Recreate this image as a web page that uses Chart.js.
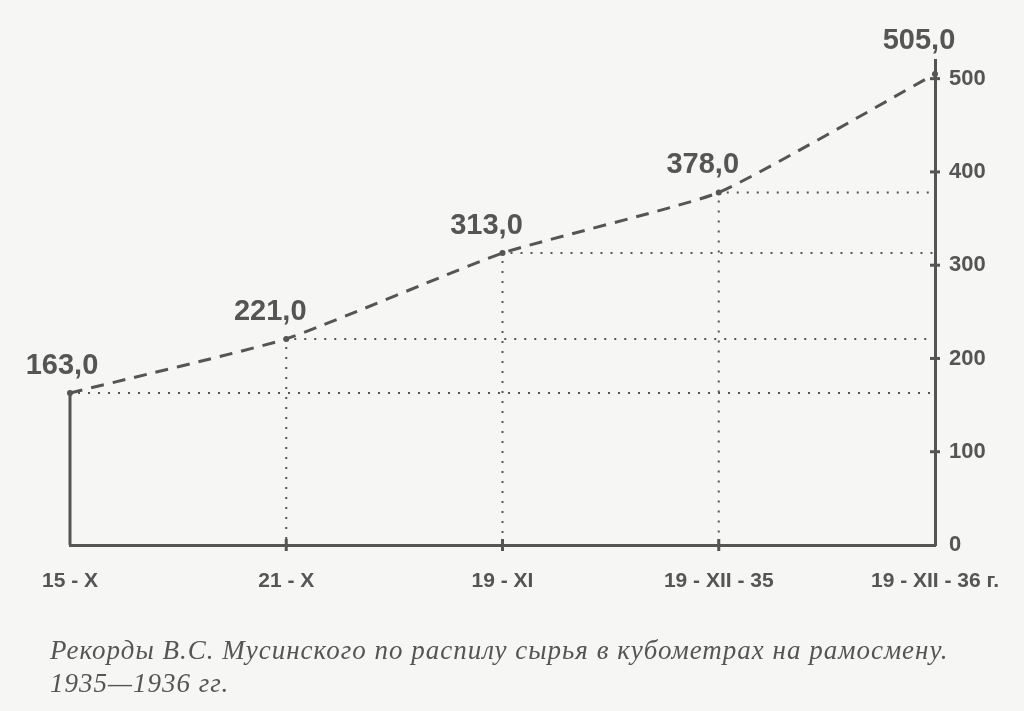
<!DOCTYPE html>
<html>
<head>
<meta charset="utf-8">
<script src="https://cdn.jsdelivr.net/npm/chart.js@4.4.0/dist/chart.umd.min.js"></script>
<style>
  body { margin: 0; background: #f6f6f4; }
  #wrap { position: relative; width: 1024px; height: 711px; overflow: hidden; }
  #myChart { position: absolute; left: 0; top: 0; }
  .caption {
    position: absolute; left: 50px; top: 634px;
    font-family: "Liberation Serif", "DejaVu Serif", serif;
    font-style: italic; font-size: 27px; line-height: 33px;
    color: #555; letter-spacing: 1px; white-space: nowrap;
  }
</style>
</head>
<body>
<div id="wrap">
  <canvas id="myChart" width="1024" height="711"></canvas>
  <div class="caption">Рекорды В.С. Мусинского по распилу сырья в кубометрах на рамосмену.<br>1935—1936 гг.</div>
</div>
<script>
const categories = ['15 - X', '21 - X', '19 - XI', '19 - XII - 35', '19 - XII - 36 г.'];
const records = [163, 221, 313, 378, 505];
const yTicks = [0, 100, 200, 300, 400, 500];

const ink = '#555';

// dotted guides to the axes + crossing tick marks + left solid edge
const guides = {
  id: 'guides',
  beforeDatasetsDraw(chart) {
    const ctx = chart.ctx;
    const x = chart.scales.x, y = chart.scales.y;
    const bottom = y.getPixelForValue(0);
    const right = x.getPixelForValue(categories.length - 1);
    ctx.save();
    ctx.strokeStyle = ink;
    records.forEach((v, i) => {
      const px = x.getPixelForValue(i);
      const py = y.getPixelForValue(v);
      ctx.lineWidth = 2;
      ctx.setLineDash([2, 8]);
      if (i < records.length - 1) {
        ctx.beginPath();
        ctx.moveTo(px + 8, py);
        ctx.lineTo(right, py);
        ctx.stroke();
      }
      if (i === 0) {
        ctx.setLineDash([]);
        ctx.lineWidth = 3;
        ctx.beginPath();
        ctx.moveTo(px, py);
        ctx.lineTo(px, bottom);
        ctx.stroke();
      } else if (i < records.length - 1) {
        ctx.beginPath();
        ctx.moveTo(px, py + 8);
        ctx.lineTo(px, bottom);
        ctx.stroke();
      }
    });
    ctx.setLineDash([]);
    ctx.lineWidth = 3;
    yTicks.slice(1).forEach(t => {
      const py = y.getPixelForValue(t);
      ctx.beginPath();
      ctx.moveTo(right - 5, py);
      ctx.lineTo(right + 5, py);
      ctx.stroke();
    });
    for (let i = 1; i < categories.length - 1; i++) {
      const px = x.getPixelForValue(i);
      ctx.beginPath();
      ctx.moveTo(px, bottom - 6);
      ctx.lineTo(px, bottom + 6);
      ctx.stroke();
    }
    ctx.restore();
  },
  afterDatasetsDraw(chart) {
    const ctx = chart.ctx;
    const meta = chart.getDatasetMeta(0);
    ctx.save();
    ctx.fillStyle = ink;
    ctx.font = 'bold 29px "Liberation Sans", Arial, sans-serif';
    ctx.textAlign = 'center';
    ctx.textBaseline = 'alphabetic';
    meta.data.forEach((pt, i) => {
      const shift = i === 0 ? -8 : -16;
      const lift = i === meta.data.length - 1 ? 25 : 19;
      ctx.fillText(records[i].toFixed(1).replace('.', ','), pt.x + shift, pt.y - lift);
    });
    ctx.restore();
  }
};

const config = {
  type: 'line',
  data: {
    labels: categories,
    datasets: [{
      data: records,
      borderColor: ink,
      borderWidth: 3,
      borderDash: [13, 9],
      pointRadius: 3,
      pointBackgroundColor: ink,
      pointBorderWidth: 0,
      tension: 0.15,
      fill: false
    }]
  },
  options: {
    responsive: false,
    animation: false,
    layout: { padding: { top: 60, left: 70, right: 0, bottom: 0 } },
    scales: {
      x: {
        offset: false,
        grid: { display: false, drawTicks: false },
        border: { display: true, color: ink, width: 3 },
        ticks: {
          color: ink,
          padding: 24,
          maxRotation: 0,
          autoSkip: false,
          font: { family: '"Liberation Sans", Arial, sans-serif', size: 21, weight: 'bold' }
        },
        afterFit(scale) { scale.height = 166; }
      },
      y: {
        position: 'right',
        min: 0,
        max: 520,
        grid: { display: false, drawTicks: false },
        border: { display: true, color: ink, width: 3 },
        afterBuildTicks(axis) {
          axis.ticks = yTicks.map(v => ({ value: v }));
        },
        ticks: {
          color: ink,
          padding: 14,
          font: { family: '"Liberation Sans", Arial, sans-serif', size: 22, weight: 'bold' }
        },
        afterFit(scale) { scale.width = 89; }
      }
    },
    plugins: {
      legend: { display: false },
      tooltip: { enabled: false }
    }
  },
  plugins: [guides]
};

const myChart = new Chart(document.getElementById('myChart'), config);
</script>
</body>
</html>
